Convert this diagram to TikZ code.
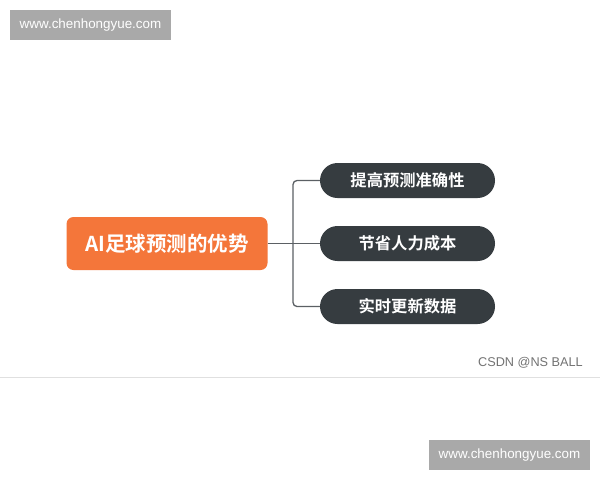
\documentclass[tikz,border=0pt]{standalone}
\usepackage{fontspec}
\setmainfont{Liberation Sans}
\newfontfamily\cjk{Noto Sans CJK SC}[BoldFont={Noto Sans CJK SC Bold}]
\usetikzlibrary{positioning,calc}
\definecolor{topicorange}{HTML}{F4763A}
\definecolor{subdark}{HTML}{363C40}
\definecolor{markgray}{HTML}{A9A9A9}
\definecolor{linkgray}{HTML}{5B6064}

\begin{document}
\begin{tikzpicture}[x=1pt,y=-1pt]
	% `topic' is the orange centre node, `branch' the dark pills.
	\tikzstyle{topic} = [fill=topicorange,rounded corners=7pt,minimum width=201pt,minimum height=53pt,text=white,font=\cjk\bfseries\fontsize{20.5}{22}\selectfont]
	\tikzstyle{branch} = [fill=subdark,rounded corners=17.5pt,minimum width=175pt,minimum height=35pt,text=white,font=\cjk\bfseries\fontsize{16.3}{18}\selectfont]
	\tikzstyle{watermark} = [fill=markgray,minimum width=161pt,minimum height=30pt,inner sep=0pt,text=white,font=\fontsize{13.4}{15}\selectfont]
	\tikzstyle{link} = [draw=linkgray,line width=1.3pt]
	\useasboundingbox[fill=white] (0,0) rectangle (600,480);
	%
	\node[watermark] (mark1) at (90.5,25) {www.chenhongyue.com};
	\node[watermark] (mark2) at (509.5,455) {www.chenhongyue.com};
	% thin rule and credit
	\coordinate (ruleL) at (0,377);
	\coordinate (ruleR) at (600,377);
	\draw[black!12,line width=0.8pt] (ruleL) -- (ruleR);
	\node[anchor=east,text=black!55,font=\fontsize{12.7}{14}\selectfont,inner sep=0pt] (credit) at (583,363) {CSDN @NS BALL};
	%
	\node[topic] (topic) at (167,243.5) {AI足球预测的优势};
	\node[branch] (sub0) at (407.5,180.5) {提高预测准确性};
	\node[branch] (sub1) at (407.5,243.5) {节省人力成本};
	\node[branch] (sub2) at (407.5,306.5) {实时更新数据};
	% Draw lines.
	\coordinate (split) at (293,243.5);
	\draw[link] (topic.east) -- (sub1.west);
	\draw[link,rounded corners=4pt] (sub0.west) -- (split |- sub0) -- (split |- sub2) -- (sub2.west);
%
\end{tikzpicture}
\end{document}
